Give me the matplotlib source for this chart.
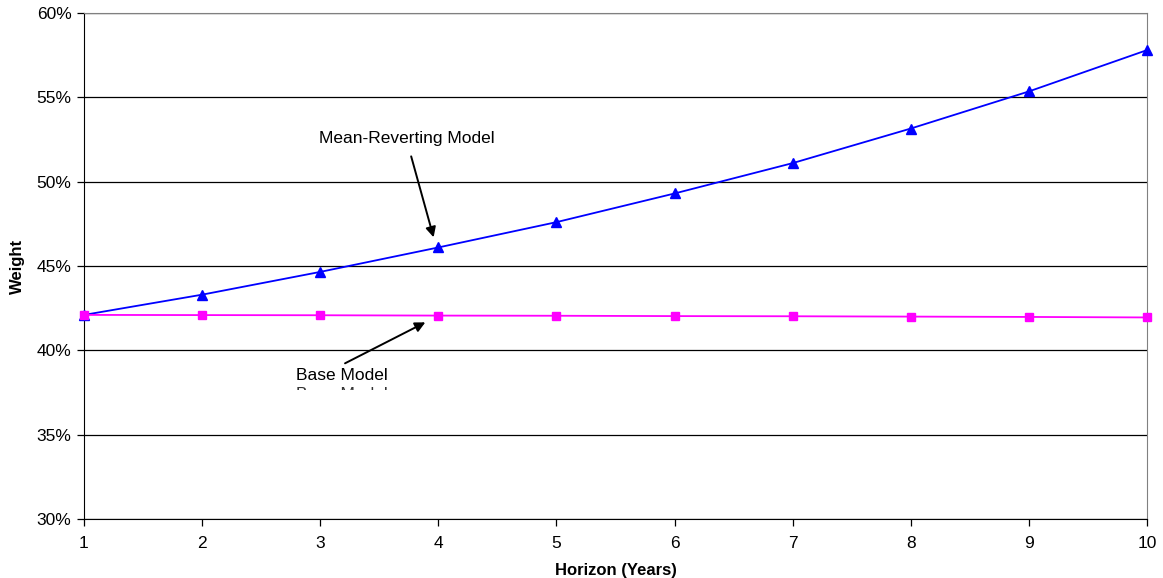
import matplotlib
matplotlib.use('Agg')
import matplotlib.pyplot as plt
from matplotlib.patches import Rectangle
from matplotlib.ticker import PercentFormatter

plt.rcParams['font.family'] = ['Liberation Sans', 'DejaVu Sans']

horizon = [1, 2, 3, 4, 5, 6, 7, 8, 9, 10]
mean_reverting = [42.1, 43.3, 44.65, 46.1, 47.6, 49.3, 51.1, 53.15, 55.35, 57.8]
base_model = [42.1, 42.09, 42.08, 42.06, 42.05, 42.03, 42.02, 42.0, 41.98, 41.95]

fig = plt.figure(figsize=(11.63, 5.78), dpi=100)
ax = fig.add_axes([84 / 1163, 59 / 578, 1063 / 1163, 506 / 578])

ax.plot(horizon, mean_reverting, color='#0000ff', lw=1.3, marker='^', ms=7,
        clip_on=False, zorder=3)
ax.plot(horizon, base_model, color='#ff00ff', lw=1.3, marker='s', ms=6,
        clip_on=False, zorder=3)

ax.set_xlim(1, 10)
ax.set_ylim(30, 60)
ax.set_xticks(horizon)
ax.set_yticks([30, 35, 40, 45, 50, 55, 60])
ax.yaxis.set_major_formatter(PercentFormatter(decimals=0))
ax.grid(axis='y', color='black', lw=0.9)
ax.set_axisbelow(True)

for s in ['top', 'right']:
    ax.spines[s].set_color('#808080')
for s in ['left', 'bottom']:
    ax.spines[s].set_color('black')

ax.tick_params(axis='both', labelsize=12.5, direction='out', length=5, width=0.9)
ax.tick_params(axis='x', pad=7)
ax.tick_params(axis='y', pad=4)
ax.set_xlabel('Horizon (Years)', fontsize=12, fontweight='bold', labelpad=9)
ax.set_ylabel('Weight', fontsize=12, fontweight='bold', labelpad=8)

ax.text(3.73, 52.57, 'Mean-Reverting Model', ha='center', va='center',
        fontsize=12.5)
ax.annotate('', xy=(3.96, 46.7), xytext=(3.77, 51.5),
            arrowprops=dict(arrowstyle='-|>', color='black', lw=1.4,
                            shrinkA=0, shrinkB=0, mutation_scale=15))

ax.text(2.795, 38.52, 'Base Model', ha='left', va='center', fontsize=12.5)
ax.annotate('', xy=(3.89, 41.66), xytext=(3.21, 39.23),
            arrowprops=dict(arrowstyle='-|>', color='black', lw=1.4,
                            shrinkA=0, shrinkB=0, mutation_scale=15))

# clipped duplicate label under "Base Model"
ax.text(2.795, 37.39, 'Base Model', ha='left', va='center', fontsize=12.5,
        color='#333333', zorder=2)
ax.add_patch(Rectangle((2.7, 36.7), 1.2, 37.63 - 36.7, facecolor='white',
                       edgecolor='none', zorder=4))

fig.savefig('out.png', dpi=100)
